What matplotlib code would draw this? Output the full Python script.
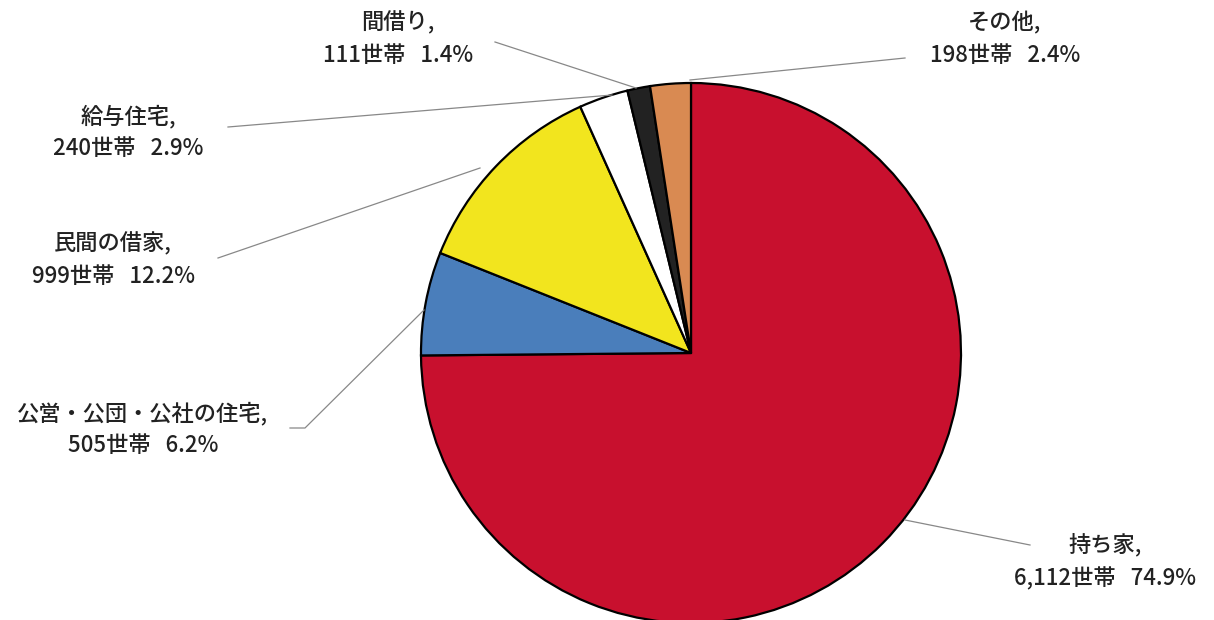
import matplotlib
matplotlib.use("Agg")
import matplotlib.pyplot as plt

plt.rcParams['font.family'] = ['Noto Sans CJK JP', 'DejaVu Sans']

# 住宅の所有関係別世帯数
labels = ['持ち家', '公営・公団・公社の住宅', '民間の借家', '給与住宅', '間借り', 'その他']
households = [6112, 505, 999, 240, 111, 198]
shares = [74.9, 6.2, 12.2, 2.9, 1.4, 2.4]
colors = ['#C8102E', '#4A7EBB', '#F2E51E', '#FFFFFF', '#222222', '#D98A52']

W, H = 1214, 620
fig = plt.figure(figsize=(W / 100, H / 100), dpi=100)
ax = fig.add_axes([0, 0, 1, 1])

cx, cy, r = 691, H - 353, 270
ax.pie(households, colors=colors, startangle=90, counterclock=False,
       center=(cx, cy), radius=r, frame=True,
       wedgeprops=dict(edgecolor='black', linewidth=1.6))
ax.set_xlim(0, W)
ax.set_ylim(0, H)
ax.set_aspect('equal')
ax.axis('off')

# label positions (text center, leader line points) in pixel coords
label_pos = {
    '持ち家': ((1105, 545), [(1030, 545), (905, 520)]),
    '公営・公団・公社の住宅': ((143, 412), [(290, 428), (305, 428), (424, 310)]),
    '民間の借家': ((113, 243), [(218, 258), (480, 168)]),
    '給与住宅': ((128, 115), [(228, 127), (612, 95)]),
    '間借り': ((398, 22), [(495, 42), (636, 88)]),
    'その他': ((1005, 22), [(905, 58), (690, 80)]),
}

for lab, n, pct in zip(labels, households, shares):
    (tx, ty), pts = label_pos[lab]
    txt = f'{lab},\n{n:,}世帯   {pct:.1f}%'
    ax.text(tx, H - ty - 17, txt, ha='center', va='center', fontsize=16,
            fontweight='medium', color='#222222', linespacing=1.5)
    xs = [p[0] for p in pts]
    ys = [H - p[1] for p in pts]
    ax.plot(xs, ys, color='#888888', linewidth=0.9)

fig.savefig('out.png', dpi=100, facecolor='white')
